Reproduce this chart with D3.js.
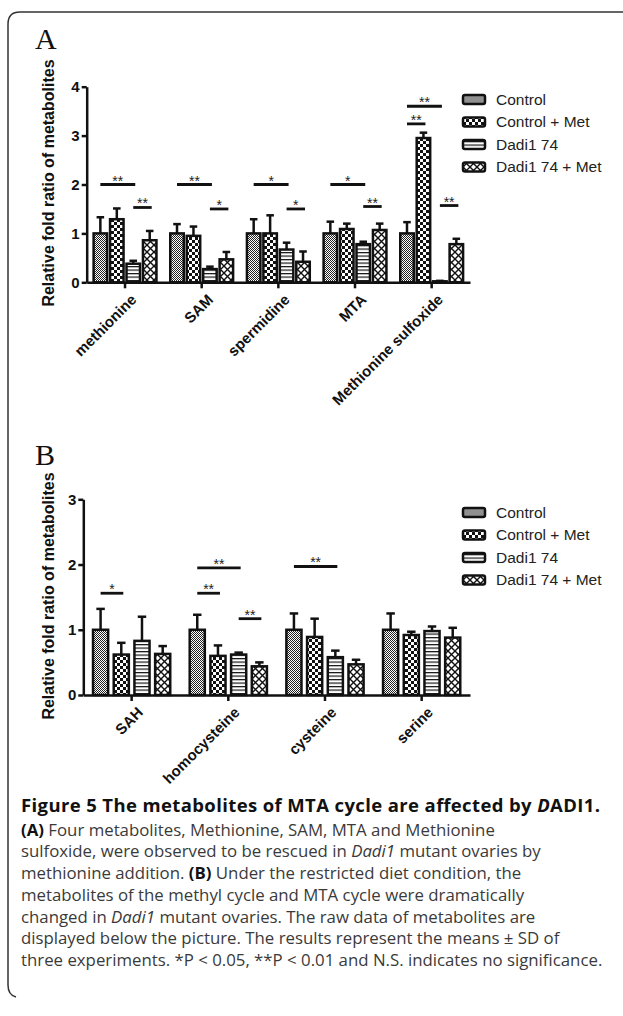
<!DOCTYPE html>
<html>
<head>
<meta charset="utf-8">
<script src="https://cdn.jsdelivr.net/npm/d3@7"></script>
<style>
  body { margin: 0; background: #fff; }
  svg { display: block; }
</style>
</head>
<body>
<script>
const width = 623;
const height = 1016;

// series shared by both panels
const seriesNames = ["Control", "Control + Met", "Dadi1 74", "Dadi1 74 + Met"];

// panel A
const groupsA = ["methionine", "SAM", "spermidine", "MTA", "Methionine sulfoxide"];
const controlA = [1.0, 1.0, 1.0, 1.0, 1.0];
const controlMetA = [1.29, 0.95, 1.0, 1.09, 2.95];
const dadiA = [0.38, 0.27, 0.67, 0.78, 0.02];
const dadiMetA = [0.86, 0.47, 0.42, 1.07, 0.78];
const controlSdA = [0.33, 0.19, 0.29, 0.24, 0.23];
const controlMetSdA = [0.22, 0.19, 0.37, 0.11, 0.11];
const dadiSdA = [0.06, 0.05, 0.14, 0.05, 0.01];
const dadiMetSdA = [0.19, 0.15, 0.21, 0.13, 0.11];
const yTicksA = [0, 1, 2, 3, 4];
// [group, from bar, to bar, height, label]
const sigA = [
  [0, 0, 2, 2.0, "**"], [0, 2, 3, 1.53, "**"],
  [1, 0, 2, 2.0, "**"], [1, 2, 3, 1.5, "*"],
  [2, 0, 2, 2.0, "*"], [2, 2, 3, 1.5, "*"],
  [3, 0, 2, 2.0, "*"], [3, 2, 3, 1.55, "**"],
  [4, 0, 2, 3.6, "**"], [4, 0, 1, 3.24, "**"], [4, 2, 3, 1.57, "**"]
];

// panel B
const groupsB = ["SAH", "homocysteine", "cysteine", "serine"];
const controlB = [1.0, 1.0, 1.0, 1.0];
const controlMetB = [0.62, 0.6, 0.89, 0.92];
const dadiB = [0.83, 0.62, 0.58, 0.98];
const dadiMetB = [0.63, 0.44, 0.47, 0.88];
const controlSdB = [0.32, 0.23, 0.25, 0.25];
const controlMetSdB = [0.18, 0.16, 0.28, 0.05];
const dadiSdB = [0.37, 0.03, 0.10, 0.07];
const dadiMetSdB = [0.12, 0.06, 0.07, 0.15];
const yTicksB = [0, 1, 2, 3];
const sigB = [
  [0, 0, 1, 1.56, "*"],
  [1, 0, 2, 1.95, "**"], [1, 0, 1, 1.56, "**"], [1, 2, 3, 1.17, "**"],
  [2, 0, 2, 1.97, "**"]
];

const svg = d3.select("body")
  .append("svg")
  .attr("width", width)
  .attr("height", height);

// fill patterns, one per series
const defs = svg.append("defs");

const p0 = defs.append("pattern").attr("id", "pat-0")
  .attr("patternUnits", "userSpaceOnUse").attr("width", 2).attr("height", 2);
p0.append("rect").attr("width", 2).attr("height", 2).attr("fill", "#fff");
p0.append("rect").attr("width", 1).attr("height", 1).attr("fill", "#222");
p0.append("rect").attr("x", 1).attr("y", 1).attr("width", 1).attr("height", 1).attr("fill", "#222");

const p1 = defs.append("pattern").attr("id", "pat-1")
  .attr("patternUnits", "userSpaceOnUse").attr("width", 6).attr("height", 6);
p1.append("rect").attr("width", 6).attr("height", 6).attr("fill", "#fff");
p1.append("rect").attr("width", 3).attr("height", 3).attr("fill", "#111");
p1.append("rect").attr("x", 3).attr("y", 3).attr("width", 3).attr("height", 3).attr("fill", "#111");

const p2 = defs.append("pattern").attr("id", "pat-2")
  .attr("patternUnits", "userSpaceOnUse").attr("width", 4).attr("height", 3.5);
p2.append("rect").attr("width", 4).attr("height", 3.5).attr("fill", "#fff");
p2.append("rect").attr("y", 0).attr("width", 4).attr("height", 1.2).attr("fill", "#111");

const p3 = defs.append("pattern").attr("id", "pat-3")
  .attr("patternUnits", "userSpaceOnUse").attr("width", 7).attr("height", 7);
p3.append("rect").attr("width", 7).attr("height", 7).attr("fill", "#fff");
p3.append("path").attr("d", "M0,0L7,7M7,0L0,7").attr("stroke", "#111").attr("stroke-width", 1.4);

// frame round the figure
svg.append("path")
  .attr("d", `M${width},12 H20 Q8,12 8,24 V985 Q8,995 16,997`)
  .attr("fill", "none")
  .attr("stroke", "#333")
  .attr("stroke-width", 1.5);

const drawPanel = (cfg) => {
  const g = svg.append("g");

  const x = d3.scaleBand().domain(cfg.groups).range([cfg.left, cfg.right]);
  const xs = d3.scaleBand().domain(d3.range(4)).range([0, x.bandwidth()])
    .paddingInner(cfg.padIn).paddingOuter(cfg.padOut);
  const y = d3.scaleLinear().domain([0, cfg.yMax]).range([cfg.bottom, cfg.top]);

  const rows = [];
  cfg.groups.forEach((grp, gi) => {
    cfg.means.forEach((arr, si) => {
      rows.push({ grp, si, v: arr[gi], sd: cfg.sds[si][gi] });
    });
  });

  const cx = (d) => x(d.grp) + xs(d.si) + xs.bandwidth() / 2;

  // error bars (upper only)
  g.append("g").selectAll("g")
    .data(rows)
    .join("g")
    .each(function (d) {
      const e = d3.select(this);
      e.append("line")
        .attr("x1", cx(d)).attr("x2", cx(d))
        .attr("y1", y(d.v)).attr("y2", y(d.v + d.sd))
        .attr("stroke", "#111").attr("stroke-width", 2.5);
      e.append("line")
        .attr("x1", cx(d) - xs.bandwidth() * 0.28).attr("x2", cx(d) + xs.bandwidth() * 0.28)
        .attr("y1", y(d.v + d.sd)).attr("y2", y(d.v + d.sd))
        .attr("stroke", "#111").attr("stroke-width", 2.5);
    });

  g.append("g").selectAll("rect")
    .data(rows)
    .join("rect")
    .attr("x", (d) => x(d.grp) + xs(d.si))
    .attr("y", (d) => y(d.v))
    .attr("width", xs.bandwidth())
    .attr("height", (d) => y(0) - y(d.v))
    .attr("fill", (d) => `url(#pat-${d.si})`)
    .attr("stroke", "#111")
    .attr("stroke-width", 2.5);

  // axes
  const ya = g.append("g")
    .attr("transform", `translate(${cfg.left},0)`)
    .call(d3.axisLeft(y).tickValues(cfg.yTicks).tickSize(5).tickSizeOuter(0).tickFormat(d3.format("d")));
  ya.select(".domain").attr("stroke", "#111").attr("stroke-width", 2.5);
  ya.selectAll(".tick line").attr("stroke", "#111").attr("stroke-width", 2.5);
  ya.selectAll(".tick text")
    .attr("x", -7)
    .style("font", "bold 15px 'Liberation Sans', Arial, sans-serif")
    .attr("fill", "#111");

  const xa = g.append("g")
    .attr("transform", `translate(0,${cfg.bottom})`)
    .call(d3.axisBottom(x).tickSize(6).tickSizeOuter(0).tickFormat(""));
  xa.select(".domain").attr("stroke", "#111").attr("stroke-width", 2.5);
  xa.selectAll(".tick line").attr("stroke", "#111").attr("stroke-width", 2.5);
  xa.selectAll(".tick").append("text")
    .attr("transform", "translate(6,12) rotate(-45)")
    .attr("text-anchor", "end")
    .attr("dy", "0.6em")
    .attr("fill", "#111")
    .style("font", "bold 15px 'Liberation Sans', Arial, sans-serif")
    .text((d) => d);

  // significance bars
  const sg = g.append("g").selectAll("g")
    .data(cfg.sig)
    .join("g");
  const barC = (gi, si) => x(cfg.groups[gi]) + xs(si) + xs.bandwidth() / 2;
  sg.append("line")
    .attr("x1", (d) => barC(d[0], d[1]))
    .attr("x2", (d) => barC(d[0], d[2]) + 2)
    .attr("y1", (d) => y(d[3]))
    .attr("y2", (d) => y(d[3]))
    .attr("stroke", "#111")
    .attr("stroke-width", 2.8);
  sg.append("text")
    .attr("x", (d) => (barC(d[0], d[1]) + barC(d[0], d[2]) + 2) / 2)
    .attr("y", (d) => y(d[3]) + 1)
    .attr("text-anchor", "middle")
    .attr("fill", "#222")
    .style("font", "14px 'Liberation Sans', Arial, sans-serif")
    .text((d) => d[4]);

  // axis title
  g.append("text")
    .attr("transform", `translate(${cfg.titleX},${cfg.titleY}) rotate(-90)`)
    .attr("text-anchor", "middle")
    .attr("dy", "0.35em")
    .attr("fill", "#111")
    .style("font", "bold 16px 'Liberation Sans', Arial, sans-serif")
    .text("Relative fold ratio of metabolites");

  // panel letter
  g.append("text")
    .attr("x", 35)
    .attr("y", cfg.letterY)
    .attr("fill", "#111")
    .style("font", "30px 'Liberation Serif', 'Times New Roman', serif")
    .text(cfg.letter);

  // legend
  const lg = g.append("g").selectAll("g")
    .data(seriesNames)
    .join("g")
    .attr("transform", (d, i) => `translate(463,${cfg.legendY + i * 22.5})`);
  lg.append("rect")
    .attr("x", 0).attr("y", -4.5)
    .attr("width", 22).attr("height", 9)
    .attr("rx", 2)
    .attr("fill", (d, i) => `url(#pat-${i})`)
    .attr("stroke", "#111")
    .attr("stroke-width", 2.5);
  lg.append("text")
    .attr("x", 33)
    .attr("dy", "0.35em")
    .attr("fill", "#222")
    .style("font", "15.5px 'Liberation Sans', Arial, sans-serif")
    .text((d) => d);
};

drawPanel({
  groups: groupsA,
  means: [controlA, controlMetA, dadiA, dadiMetA],
  sds: [controlSdA, controlMetSdA, dadiSdA, dadiMetSdA],
  sig: sigA,
  yMax: 4, yTicks: yTicksA,
  left: 86.7, right: 470, top: 86.7, bottom: 282.3,
  padIn: 0.18, padOut: 0.42,
  titleX: 48, titleY: 183,
  letter: "A", letterY: 49,
  legendY: 99.5
});

drawPanel({
  groups: groupsB,
  means: [controlB, controlMetB, dadiB, dadiMetB],
  sds: [controlSdB, controlMetSdB, dadiSdB, dadiMetSdB],
  sig: sigB,
  yMax: 3, yTicks: yTicksB,
  left: 83.3, right: 470, top: 499.3, bottom: 695,
  padIn: 0.27, padOut: 0.47,
  titleX: 48, titleY: 596,
  letter: "B", letterY: 465,
  legendY: 512.5
});

// caption
const captionLines = [
  [["Figure 5 The metabolites of MTA cycle are affected by ", "b"], ["D", "bi"], ["ADI1.", "b"]],
  [["(A)", "b"], [" Four metabolites, Methionine, SAM, MTA and Methionine", ""]],
  [["sulfoxide, were observed to be rescued in ", ""], ["Dadi1", "i"], [" mutant ovaries by", ""]],
  [["methionine addition. ", ""], ["(B)", "b"], [" Under the restricted diet condition, the", ""]],
  [["metabolites of the methyl cycle and MTA cycle were dramatically", ""]],
  [["changed in ", ""], ["Dadi1", "i"], [" mutant ovaries. The raw data of metabolites are", ""]],
  [["displayed below the picture. The results represent the means \u00b1 SD of", ""]],
  [["three experiments. *P < 0.05, **P < 0.01 and N.S. indicates no significance.", ""]]
];

const cap = svg.append("g")
  .style("font-family", "'Open Sans', 'Noto Sans', sans-serif");

const capText = cap.selectAll("text")
  .data(captionLines)
  .join("text")
  .attr("x", 21)
  .attr("y", (d, i) => (i === 0 ? 812 : 814 + i * 21.7))
  .attr("fill", (d, i) => (i === 0 ? "#111" : "#3a3a3a"));

capText.selectAll("tspan")
  .data((d) => d)
  .join("tspan")
  .attr("font-weight", (d) => (d[1].includes("b") ? "bold" : null))
  .attr("font-style", (d) => (d[1].includes("i") ? "italic" : null))
  .attr("fill", (d) => (d[1].includes("b") ? "#111" : null))
  .text((d) => d[0]);

// fit font size to the widths of the reference lines
capText.style("font-size", "15px");
const bodyW = capText.filter((d, i) => i === 7).node().getComputedTextLength();
const bodySize = 15 * 582 / bodyW;
capText.style("font-size", `${bodySize}px`);
const titleText = capText.filter((d, i) => i === 0);
const titleW = titleText.node().getComputedTextLength();
const titleSize = Math.min(bodySize * 1.1, bodySize * 579 / titleW);
titleText.style("font-size", `${titleSize}px`);
if (titleText.node().getComputedTextLength() < 576) {
  titleText.attr("textLength", 579).attr("lengthAdjust", "spacing");
}
</script>
</body>
</html>
